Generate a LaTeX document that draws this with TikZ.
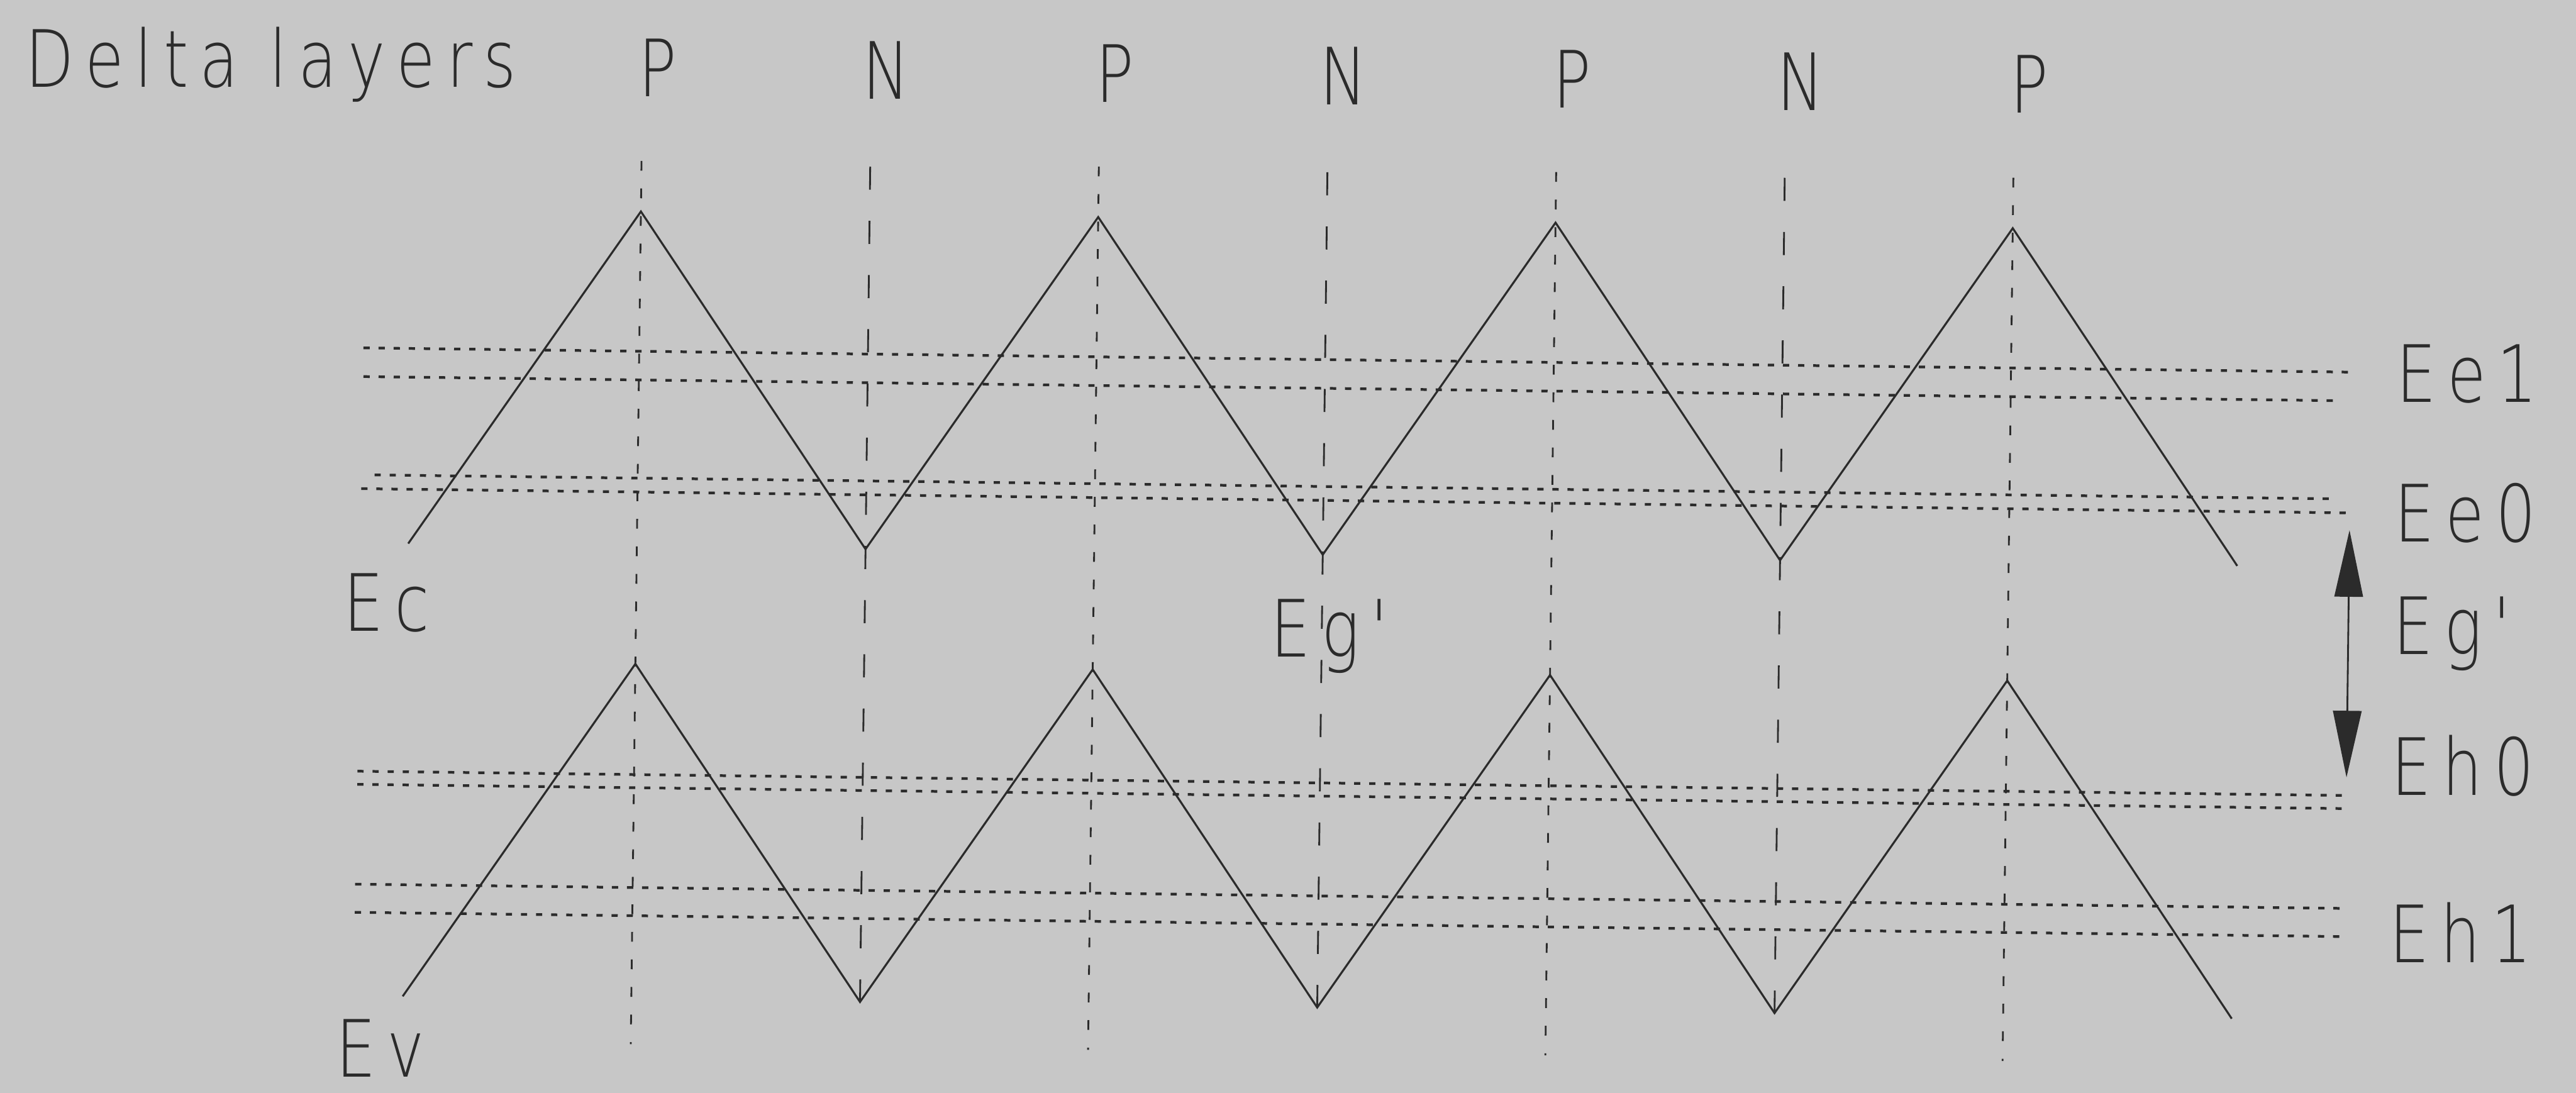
\documentclass[tikz,border=0pt]{standalone}
\usepackage{fontspec}
\usepackage{tikz}
\usetikzlibrary{arrows.meta}
\IfFontExistsTF{DejaVuSans-ExtraLight.ttf}
  {\newfontfamily\plotfont{DejaVuSans-ExtraLight.ttf}[FakeStretch=0.8,LetterSpace=14]}
  {\newfontfamily\plotfont{DejaVu Sans Mono}[FakeStretch=0.86]}
\definecolor{PlotInk}{HTML}{2B2B2B}
\definecolor{PaperGray}{gray}{0.78}

\begin{document}
\begin{tikzpicture}[
  font=\plotfont\fontsize{17.8}{20}\selectfont,
  text=PlotInk,
  tag/.style={inner sep=0pt},
  band/.style={draw=PlotInk,line width=0.45pt},
  levelline/.style={draw=PlotInk,line width=0.6pt,dash pattern=on 1.4pt off 2pt},
  pline/.style={draw=PlotInk,line width=0.4pt,dash pattern=on 2.2pt off 4pt},
  nline/.style={draw=PlotInk,line width=0.4pt,dash pattern=on 5.2pt off 7pt},
  gap/.style={draw=PlotInk,line width=0.4pt,
              {Triangle[length=15pt,width=6.4pt]}-{Triangle[length=15pt,width=6.4pt]}},
]
  \fill[PaperGray] (0,0) rectangle (20.383,8.647);
  \useasboundingbox (0,0) rectangle (20.383,8.647);

  \begin{scope}[rotate around={-0.7:(10,4.313)}]
  % layer sequence
  \node[tag,anchor=base west] (title) at (0.15,7.84) {Delta layers};
  \node[tag,anchor=base] (P1) at (5.159,7.825) {P};
  \node[tag,anchor=base] (N1) at (6.969,7.825) {N};
  \node[tag,anchor=base] (P2) at (8.778,7.825) {P};
  \node[tag,anchor=base] (N2) at (10.587,7.825) {N};
  \node[tag,anchor=base] (P3) at (12.397,7.825) {P};
  \node[tag,anchor=base] (N3) at (14.206,7.825) {N};
  \node[tag,anchor=base] (P4) at (16.015,7.825) {P};

  \draw[pline] (5.039,7.313) -- (5.039,0.323);
  \draw[nline] (6.849,7.29) -- (6.849,0.447);
  \draw[pline] (8.658,7.313) -- (8.658,0.323);
  \draw[nline] (10.467,7.29) -- (10.467,0.447);
  \draw[pline] (12.277,7.313) -- (12.277,0.323);
  \draw[nline] (14.086,7.29) -- (14.086,0.447);
  \draw[pline] (15.895,7.313) -- (15.895,0.323);

  % band edges
  \draw[band] (3.230,4.263) -- (5.039,6.913) -- (6.849,4.263) -- (8.658,6.913)
    -- (10.467,4.263) -- (12.277,6.913) -- (14.086,4.263) -- (15.895,6.913) -- (17.704,4.263);
  \draw[band] (3.230,0.680) -- (5.039,3.333) -- (6.849,0.680) -- (8.658,3.333)
    -- (10.467,0.680) -- (12.277,3.333) -- (14.086,0.680) -- (15.895,3.333) -- (17.704,0.680);

  % subband levels
  \draw[levelline] (2.857,5.807) -- (18.567,5.807);
  \draw[levelline] (2.860,5.580) -- (18.470,5.580);
  \draw[levelline] (2.957,4.803) -- (18.480,4.803);
  \draw[levelline] (2.853,4.693) -- (18.583,4.693);
  \draw[levelline] (2.850,2.457) -- (18.593,2.457);
  \draw[levelline] (2.850,2.353) -- (18.593,2.353);
  \draw[levelline] (2.843,1.563) -- (18.587,1.563);
  \draw[levelline] (2.843,1.340) -- (18.587,1.340);

  \node[tag,anchor=base west] (Ec) at (2.723,3.562) {Ec};
  \node[tag,anchor=base west] (Ev) at (2.703,0.035) {Ev};
  \node[tag,anchor=base west] (gapmid) at (10.057,3.452) {Eg'};

  \node[tag,anchor=base west] (Ee1) at (18.94,5.575) {Ee1};
  \node[tag,anchor=base west] (Ee0) at (18.94,4.469) {Ee0};
  \node[tag,anchor=base west] (Eg) at (18.94,3.578) {Eg'};
  \node[tag,anchor=base west] (Eh0) at (18.94,2.462) {Eh0};
  \node[tag,anchor=base west] (Eh1) at (18.94,1.138) {Eh1};

  \coordinate (gaptop) at (18.59,4.557);
  \coordinate (gapbot) at (18.59,2.600);
  \draw[gap] (gaptop) -- (gapbot);
  \end{scope}
\end{tikzpicture}
\end{document}
